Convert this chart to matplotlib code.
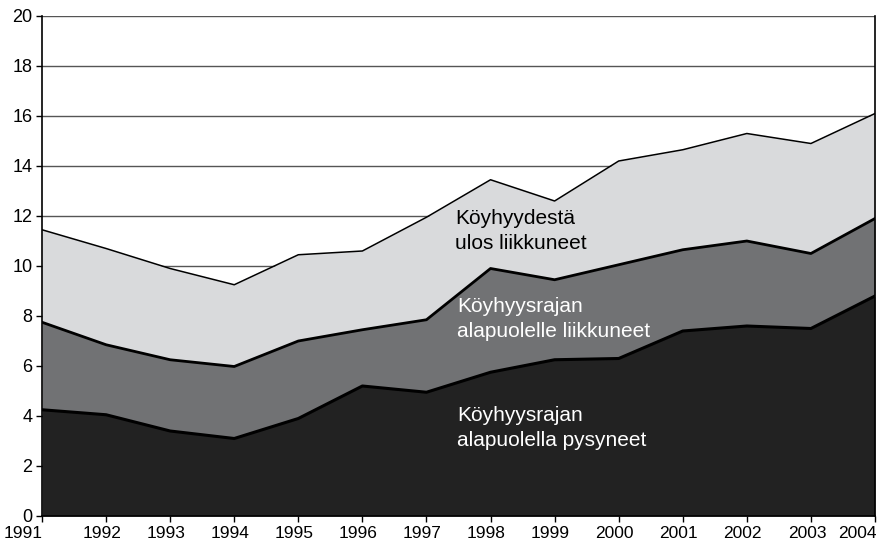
import matplotlib
matplotlib.use("Agg")
import matplotlib.pyplot as plt
import matplotlib.transforms as mtransforms
import numpy as np

years = [1991, 1992, 1993, 1994, 1995, 1996, 1997, 1998, 1999, 2000, 2001, 2002, 2003, 2004]
# cumulative levels (stacked)
stayed_below = [4.25, 4.05, 3.4, 3.1, 3.9, 5.2, 4.95, 5.75, 6.25, 6.3, 7.4, 7.6, 7.5, 8.8]
moved_below_top = [7.75, 6.85, 6.25, 5.98, 7.0, 7.45, 7.85, 9.9, 9.45, 10.05, 10.65, 11.0, 10.5, 11.9]
moved_out_top = [11.45, 10.7, 9.9, 9.25, 10.45, 10.6, 11.95, 13.45, 12.6, 14.2, 14.65, 15.3, 14.9, 16.1]

labels = [["Köyhyydestä", "ulos liikkuneet"],
          ["Köyhyysrajan", "alapuolelle liikkuneet"],
          ["Köyhyysrajan", "alapuolella pysyneet"]]
yticks = list(range(0, 21, 2))

plt.rcParams['font.family'] = ['Liberation Sans', 'DejaVu Sans']

fig = plt.figure(figsize=(8.93, 5.45), dpi=100)
ax = fig.add_axes([42/893, 29/545, (875-42)/893, (516-16)/545])

ax.set_axisbelow(True)
ax.yaxis.grid(True, color='#555555', linewidth=1.0)

ax.fill_between(years, 0, stayed_below, color='#222222', linewidth=0, zorder=2)
ax.fill_between(years, stayed_below, moved_below_top, color='#717274', linewidth=0, zorder=2)
ax.fill_between(years, moved_below_top, moved_out_top, color='#d9dadc', linewidth=0, zorder=2)
ax.plot(years, stayed_below, color='black', linewidth=2.2, zorder=3)
ax.plot(years, moved_below_top, color='black', linewidth=2.0, zorder=3)
ax.plot(years, moved_out_top, color='black', linewidth=1.1, zorder=3)

ax.set_xlim(1991, 2004)
ax.set_ylim(0, 20)
ax.set_xticks(years)
ax.set_xticklabels([str(y) for y in years], fontsize=12.5)
ax.set_yticks(yticks)
ax.set_yticklabels([str(v) for v in yticks], fontsize=13)
ax.tick_params(axis='x', direction='out', length=4, width=1, color='black', pad=3)
ax.tick_params(axis='y', direction='out', length=4, width=1, color='black', pad=3)

# shift x tick labels slightly left, with first/last kept inside the figure
xlabels = ax.get_xticklabels()
for i, lab in enumerate(xlabels):
    dx = -4
    if i == 0:
        dx = -19
    elif i == len(xlabels) - 1:
        dx = -18
    lab.set_transform(lab.get_transform() + mtransforms.ScaledTranslation(dx / 100, 0, fig.dpi_scale_trans))

ax.spines['top'].set_visible(False)
for side in ['left', 'bottom', 'right']:
    ax.spines[side].set_linewidth(1.2)
    ax.spines[side].set_color('black')

fs = 15
ax.text(1997.445, 11.68, labels[0][0], fontsize=fs, color='black', va='baseline', ha='left', zorder=4)
ax.text(1997.445, 10.68, labels[0][1], fontsize=fs, color='black', va='baseline', ha='left', zorder=4)
ax.text(1997.476, 8.16, labels[1][0], fontsize=fs, color='white', va='baseline', ha='left', zorder=4)
ax.text(1997.476, 7.16, labels[1][1], fontsize=fs, color='white', va='baseline', ha='left', zorder=4)
ax.text(1997.476, 3.8, labels[2][0], fontsize=fs, color='white', va='baseline', ha='left', zorder=4)
ax.text(1997.476, 2.8, labels[2][1], fontsize=fs, color='white', va='baseline', ha='left', zorder=4)

fig.savefig("out.png", dpi=100)
